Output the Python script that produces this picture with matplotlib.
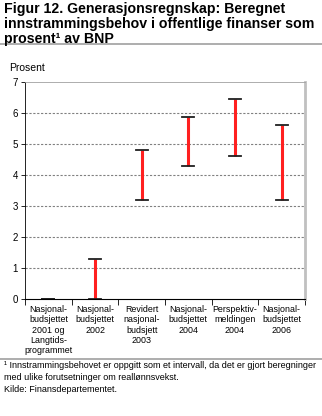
import matplotlib.pyplot as plt
from matplotlib.lines import Line2D

plt.rcParams['font.family'] = ['Liberation Sans', 'DejaVu Sans']

# Intervall for beregnet innstrammingsbehov, prosent av BNP
kategorier = [
    "Nasjonal-\nbudsjettet\n2001 og\nLangtids-\nprogrammet",
    "Nasjonal-\nbudsjettet\n2002",
    "Revidert\nnasjonal-\nbudsjett\n2003",
    "Nasjonal-\nbudsjettet\n2004",
    "Perspektiv-\nmeldingen\n2004",
    "Nasjonal-\nbudsjettet\n2006",
]
lav = [0.0, 0.0, 3.2, 4.3, 4.6, 3.2]
hoy = [0.0, 1.3, 4.8, 5.85, 6.45, 5.6]

fig = plt.figure(figsize=(3.22, 4.16), dpi=100)
ax = fig.add_axes([0.078, 0.2805, 0.869, 0.523])

x = list(range(len(kategorier)))
for xi, lo, hi in zip(x, lav, hoy):
    ax.plot([xi, xi], [lo, hi], color="#ff2020", lw=2.2, solid_capstyle="butt", zorder=3)
    for yv in (lo, hi):
        ax.plot([xi - 0.13, xi + 0.13], [yv, yv], color="#202020", lw=1.3, zorder=4)

ax.set_xlim(-0.5, len(kategorier) - 0.5)
ax.set_ylim(0, 7)
ax.set_yticks(range(0, 8))
ax.tick_params(axis="y", labelsize=7, length=3, width=0.6, pad=2)

# skillestreker mellom kategoriene, etiketter i midten
ax.set_xticks([i + 0.5 for i in range(-1, len(kategorier))])
ax.set_xticklabels([])
ax.tick_params(axis="x", which="major", length=4, width=0.6, direction="out")
ax.set_xticks(x, minor=True)
ax.set_xticklabels(kategorier, minor=True, fontsize=6.4, linespacing=1.2)
ax.tick_params(axis="x", which="minor", length=0, pad=4)

for yv in range(1, 7):
    ax.axhline(yv, color="#808080", lw=0.8, ls=(0, (2, 1.5)), zorder=1)

ax.spines["left"].set_linewidth(0.6)
ax.spines["bottom"].set_linewidth(0.8)
ax.spines["top"].set_color("#a0a0a0")
ax.spines["top"].set_linewidth(0.6)
ax.spines["right"].set_color("#c0c0c0")
ax.spines["right"].set_linewidth(2)

fig.text(0.012, 0.996, "Figur 12. Generasjonsregnskap: Beregnet\ninnstrammingsbehov i offentlige finanser som\nprosent\u00b9 av BNP",
         fontsize=10.2, fontweight="bold", va="top", ha="left", linespacing=1.12)
fig.add_artist(Line2D([0, 1], [1 - 44 / 416, 1 - 44 / 416], color="#a0a0a0", lw=1.2))
fig.text(0.028, 1 - 68 / 416, "Prosent", fontsize=7.5, va="center", ha="left")

fig.add_artist(Line2D([0, 1], [1 - 359 / 416, 1 - 359 / 416], color="#a0a0a0", lw=1.2))
fig.text(0.012, 1 - 361 / 416,
         "\u00b9 Innstrammingsbehovet er oppgitt som et intervall, da det er gjort beregninger\nmed ulike forutsetninger om reallønnsvekst.\nKilde: Finansdepartementet.",
         fontsize=6.5, va="top", ha="left", linespacing=1.4)

fig.savefig("out.png", dpi=100)
